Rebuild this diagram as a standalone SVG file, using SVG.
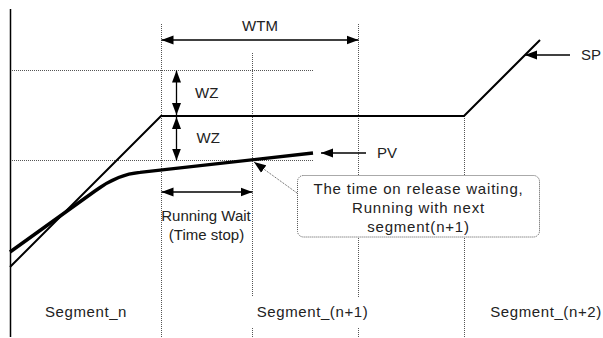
<svg xmlns="http://www.w3.org/2000/svg" width="603" height="338" viewBox="0 0 603 338">
<style>
.dot{stroke:#555;stroke-width:1;stroke-dasharray:1,1;fill:none}
.thin{stroke:#000;stroke-width:1.3;fill:none}
.sp{stroke:#000;stroke-width:2;fill:none}
.pv{stroke:#000;stroke-width:3.4;fill:none;stroke-linejoin:round}
text{font-family:"Liberation Sans",Arial,sans-serif;font-size:15px;fill:#222}
.c{text-anchor:middle}
</style>
<defs>
<marker id="ah" markerUnits="userSpaceOnUse" markerWidth="13" markerHeight="10" refX="12" refY="5" orient="auto-start-reverse">
<path d="M0,0.5 L12,5 L0,9.5 z" fill="#000"/>
</marker>
</defs>
<g id="grid">
<line class="dot" x1="161.5" y1="24" x2="161.5" y2="337"/>
<line class="dot" x1="252.5" y1="53" x2="252.5" y2="297"/>
<line class="dot" x1="252.5" y1="328" x2="252.5" y2="337"/>
<line class="dot" x1="358.5" y1="24" x2="358.5" y2="297"/>
<line class="dot" x1="358.5" y1="328" x2="358.5" y2="337"/>
<line class="dot" x1="464.5" y1="116" x2="464.5" y2="337"/>
<line class="dot" x1="10" y1="70.5" x2="313" y2="70.5"/>
<line class="dot" x1="10" y1="160.5" x2="313" y2="160.5"/>
</g>
<g id="axis">
<line x1="10.5" y1="9" x2="10.5" y2="337" stroke="#000" stroke-width="1.5"/>
</g>
<g id="sp-curve">
<polyline class="sp" points="10,267 161,116 464,116 540,40"/>
</g>
<g id="pv-curve">
<path class="pv" d="M10,252 L95,191 Q118,174 140,172.4 L313,153"/>
</g>
<g id="connectors">
<line class="thin" x1="161.5" y1="40" x2="358.5" y2="40" marker-start="url(#ah)" marker-end="url(#ah)"/>
<line class="thin" x1="176.5" y1="70.5" x2="176.5" y2="115" marker-start="url(#ah)" marker-end="url(#ah)"/>
<line class="thin" x1="176.5" y1="117" x2="176.5" y2="160.5" marker-start="url(#ah)" marker-end="url(#ah)"/>
<line class="thin" x1="161.5" y1="192" x2="252.5" y2="192" marker-start="url(#ah)" marker-end="url(#ah)"/>
<line class="thin" x1="570" y1="55" x2="525" y2="55" marker-end="url(#ah)"/>
<line class="thin" x1="366" y1="153" x2="321" y2="153" marker-end="url(#ah)"/>
<line class="dot" x1="297" y1="193" x2="254" y2="162" marker-end="url(#ah)"/>
</g>
<g id="callout">
<rect x="297.5" y="175.5" width="242" height="61.5" rx="6" fill="#fff" stroke="#555" stroke-width="1" stroke-dasharray="1,1"/>
<text class="c" x="418.5" y="193.5" letter-spacing="0.8">The time on release waiting,</text>
<text class="c" x="418.5" y="213" letter-spacing="0.8">Running with next</text>
<text class="c" x="418.5" y="232" letter-spacing="0.8">segment(n+1)</text>
</g>
<g id="labels">
<text class="c" x="260" y="30.5">WTM</text>
<text x="195" y="97.5">WZ</text>
<text x="196.5" y="142.5">WZ</text>
<text class="c" x="206" y="221">Running Wait</text>
<text class="c" x="206.5" y="240">(Time stop)</text>
<text x="377" y="158">PV</text>
<text x="581" y="60">SP</text>
<text class="c" x="86" y="317" letter-spacing="0.6">Segment_n</text>
<text class="c" x="312.5" y="317" letter-spacing="0.6">Segment_(n+1)</text>
<text class="c" x="546" y="317" letter-spacing="0.6">Segment_(n+2)</text>
</g>
</svg>
